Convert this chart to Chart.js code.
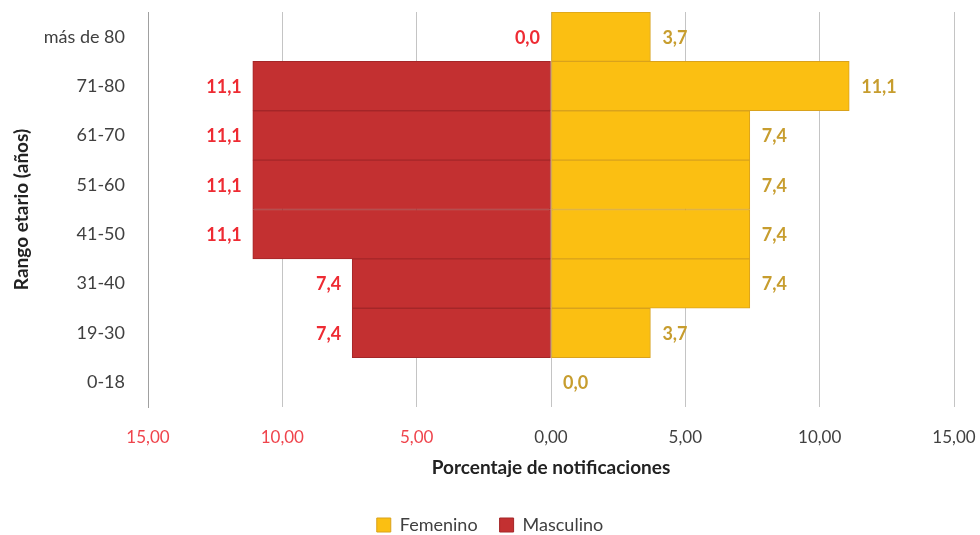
<!DOCTYPE html>
<html>
<head>
<meta charset="utf-8">
<script src="https://cdn.jsdelivr.net/npm/chart.js@4/dist/chart.umd.min.js"></script>
<style>
  html, body { margin: 0; padding: 0; background: #fff; }
  #wrap { width: 980px; height: 535px; }
</style>
</head>
<body>
<div id="wrap"><canvas id="pyramidChart" width="980" height="535"></canvas></div>
<script>
// age groups, top to bottom
const ageGroups = ['más de 80', '71-80', '61-70', '51-60', '41-50', '31-40', '19-30', '0-18'];
// percentage of notifications per sex
const femenino = [3.7, 11.1, 7.4, 7.4, 7.4, 7.4, 3.7, 0.0];
const masculino = [0.0, 11.1, 11.1, 11.1, 11.1, 7.4, 7.4, null];
const xTicks = [-15, -10, -5, 0, 5, 10, 15];

const RED_TEXT = '#EE2B33';
const GOLD_TEXT = '#C79D2E';

function fmt(v, digits) {
    return Math.abs(v).toFixed(digits).replace('.', ',');
}

// labels at the end of each bar
const barLabels = {
    id: 'barLabels',
    afterDatasetsDraw(chart) {
        const ctx = chart.ctx;
        const xScale = chart.scales.x;
        ctx.save();
        ctx.font = 'bold 18px Lato';
        ctx.textBaseline = 'middle';
        chart.data.datasets.forEach(function (ds, i) {
            const meta = chart.getDatasetMeta(i);
            meta.data.forEach(function (bar, j) {
                const v = ds.data[j];
                if (v === null || v === undefined) return;
                if (ds.label === 'Masculino') {
                    ctx.fillStyle = RED_TEXT;
                    ctx.textAlign = 'right';
                    ctx.fillText(fmt(v, 1), xScale.getPixelForValue(-Math.abs(v)) - 11, bar.y + 1);
                } else {
                    ctx.fillStyle = GOLD_TEXT;
                    ctx.textAlign = 'left';
                    ctx.fillText(fmt(v, 1), xScale.getPixelForValue(v) + 12, bar.y + 1);
                }
            });
        });
        ctx.restore();
    }
};

Chart.defaults.font.family = 'Lato';
Chart.defaults.color = '#404040';

const ctx = document.getElementById('pyramidChart').getContext('2d');
const pyramidChart = new Chart(ctx, {
    type: 'bar',
    data: {
        labels: ageGroups,
        datasets: [{
            label: 'Femenino',
            data: femenino,
            backgroundColor: '#FBBF12',
            borderColor: '#D9A21C',
            borderWidth: 1,
            borderSkipped: false,
            barPercentage: 1,
            categoryPercentage: 1
        }, {
            label: 'Masculino',
            data: masculino.map(v => v === null ? null : -v),
            backgroundColor: '#C33031',
            borderColor: '#A42628',
            borderWidth: 1,
            borderSkipped: false,
            barPercentage: 1,
            categoryPercentage: 1
        }]
    },
    options: {
        indexAxis: 'y',
        responsive: false,
        animation: false,
        layout: { padding: { left: 0, right: 0, top: 12, bottom: -9 } },
        plugins: {
            legend: {
                position: 'bottom',
                labels: {
                    boxWidth: 14,
                    boxHeight: 14,
                    padding: 22,
                    color: '#404040',
                    font: { size: 18 }
                }
            },
            tooltip: { enabled: false }
        },
        scales: {
            x: {
                stacked: true,
                min: -15,
                max: 15,
                afterBuildTicks: function (scale) {
                    scale.ticks = xTicks.map(v => ({ value: v }));
                },
                afterFit: function (scale) {
                    scale.height = 87;
                    scale.paddingLeft = 0;
                    scale.paddingRight = 26;
                },
                grid: {
                    color: '#C4C4C4',
                    drawTicks: false
                },
                border: { display: false },
                ticks: {
                    padding: 20,
                    font: { size: 17 },
                    color: function (c) {
                        return c.tick && c.tick.value < 0 ? '#EF444C' : '#404040';
                    },
                    callback: function (value) {
                        return fmt(value, 2);
                    }
                },
                title: {
                    display: true,
                    text: 'Porcentaje de notificaciones',
                    color: '#222',
                    font: { size: 19, weight: 'bold' },
                    padding: { top: 0, bottom: 14.6 }
                }
            },
            y: {
                stacked: true,
                afterFit: function (scale) {
                    scale.width = 148;
                    scale.paddingTop = 0;
                    scale.paddingBottom = 0;
                },
                grid: { display: false, drawTicks: false },
                border: { display: true, color: '#A0A0A0' },
                ticks: {
                    padding: 23,
                    font: { size: 18 },
                    color: '#404040'
                },
                title: {
                    display: true,
                    text: 'Rango etario (años)',
                    color: '#222',
                    font: { size: 19, weight: 'bold' },
                    padding: { top: 10.6, bottom: 0 }
                }
            }
        }
    },
    plugins: [barLabels]
});
</script>
</body>
</html>
